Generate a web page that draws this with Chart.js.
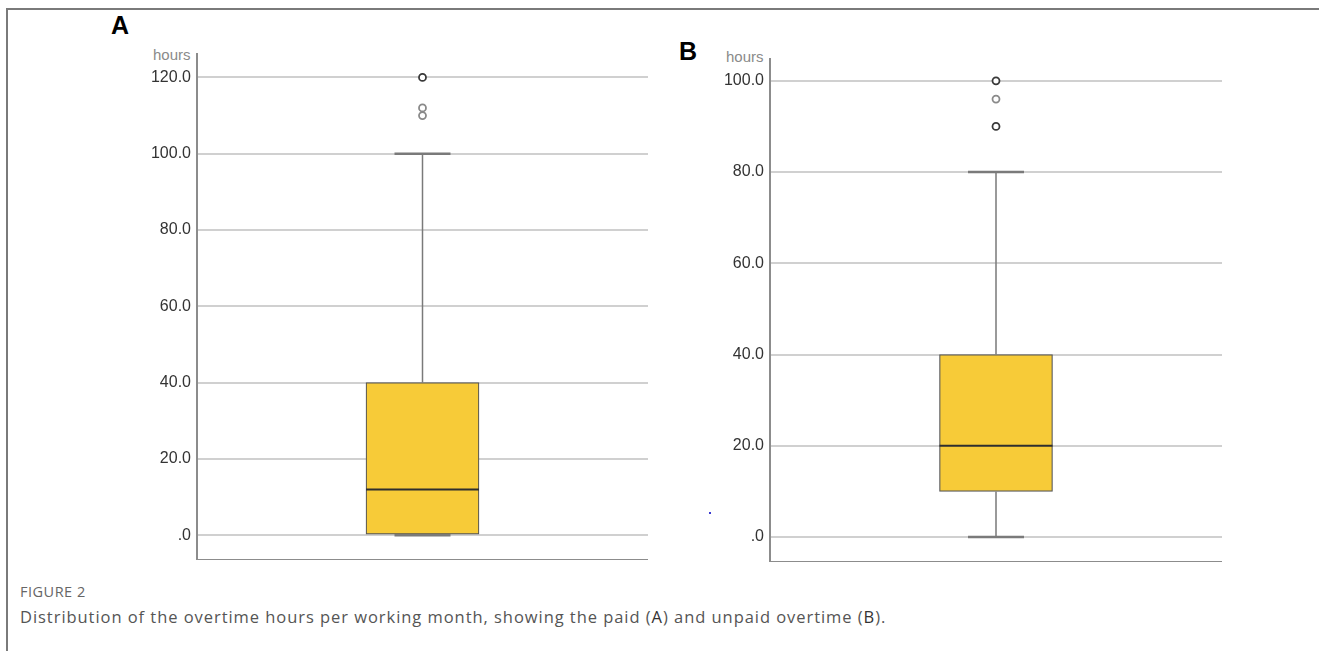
<!DOCTYPE html>
<html>
<head>
<meta charset="utf-8">
<script src="https://cdn.jsdelivr.net/npm/chart.js@4"></script>
<style>
  html, body { margin: 0; padding: 0; background: #fff; }
  body { width: 1319px; height: 651px; position: relative; overflow: hidden; font-family: "Liberation Sans", Arial, sans-serif; }
  .frameTop { position: absolute; left: 6px; top: 8px; width: 1313px; height: 2px; background: #7a7a7a; }
  .frameLeft { position: absolute; left: 6px; top: 8px; width: 2px; height: 643px; background: #7a7a7a; }
  .panel { position: absolute; }
  .letter { position: absolute; font: bold 25px "Liberation Sans", Arial, sans-serif; color: #000; }
  .unit { position: absolute; font: 15px "Liberation Sans", Arial, sans-serif; color: #8a8a8a; }
  .figlabel { position: absolute; left: 20px; top: 582px; font: 14.5px "Open Sans", sans-serif; letter-spacing: 0.5px; color: #666; }
  .caption { position: absolute; left: 20px; top: 605px; font: 16.5px "Open Sans", sans-serif; letter-spacing: 0.95px; color: #555; }
</style>
</head>
<body>
<div class="frameTop"></div>
<div class="frameLeft"></div>

<div class="letter" style="left:111px; top:11px;">A</div>
<div class="unit" style="left:153px; top:46px;">hours</div>
<div class="panel" style="left:100px; top:53px; width:548px; height:507px;"><canvas id="chartA"></canvas></div>

<div class="letter" style="left:679px; top:37px;">B</div>
<div class="unit" style="left:726px; top:48px;">hours</div>
<div class="panel" style="left:673px; top:58px; width:549px; height:504px;"><canvas id="chartB"></canvas></div>

<div style="position:absolute; left:709px; top:512px; width:2px; height:2px; background:#3a3ad0;"></div>

<div class="figlabel">FIGURE 2</div>
<div class="caption">Distribution of the overtime hours per working month, showing the paid (<span style="color:#333">A</span>) and unpaid overtime (<span style="color:#333">B</span>).</div>

<script>
// ---- Data ----
const categories = ['Paid overtime'];
const categoriesB = ['Unpaid overtime'];

// Paid overtime (A): five-number summary
const paidWhiskerLow = [0];
const paidQ1 = [0];
const paidMedian = [12];
const paidQ3 = [40];
const paidWhiskerHigh = [100];
const paidOutliers = [120, 112, 110];
const paidOutlierStrong = [true, false, false];

// Unpaid overtime (B): five-number summary
const unpaidWhiskerLow = [0];
const unpaidQ1 = [10];
const unpaidMedian = [20];
const unpaidQ3 = [40];
const unpaidWhiskerHigh = [80];
const unpaidOutliers = [100, 96, 90];
const unpaidOutlierStrong = [true, false, true];

// Tick labels
const ticksA = [0, 20, 40, 60, 80, 100, 120];
const ticksB = [0, 20, 40, 60, 80, 100];

// ---- Styles ----
const BOX_FILL = '#F7CB38';
const BOX_BORDER = '#555';
const WHISKER = '#7a7a7a';
const GRID = '#d0d0d0';
const AXIS = '#8c8c8c';

function fmt(v) { return v === 0 ? '.0' : v.toFixed(1); }

function noPad(s) { s.paddingTop = 0; s.paddingBottom = 0; s.paddingLeft = 0; s.paddingRight = 0; }

const whiskerPlugin = {
  id: 'whiskers',
  afterDatasetsDraw(chart, args, opts) {
    const { ctx } = chart;
    const x = chart.scales.x, y = chart.scales.y;
    const s = opts.stats;
    for (let i = 0; i < s.median.length; i++) {
      const cx = x.getPixelForValue(i);
      const half = opts.boxWidth / 2, cap = opts.capWidth / 2;
      const pLo = y.getPixelForValue(s.low[i]);
      const pQ1 = y.getPixelForValue(s.q1[i]);
      const pQ3 = y.getPixelForValue(s.q3[i]);
      const pHi = y.getPixelForValue(s.high[i]);
      const pMed = y.getPixelForValue(s.median[i]);
      ctx.save();
      ctx.strokeStyle = WHISKER;
      ctx.lineWidth = 1.5;
      ctx.beginPath();
      ctx.moveTo(cx, pQ3); ctx.lineTo(cx, pHi);
      if (pQ1 !== pLo) { ctx.moveTo(cx, pQ1); ctx.lineTo(cx, pLo); }
      ctx.stroke();
      ctx.lineWidth = 2.5;
      ctx.beginPath();
      ctx.moveTo(cx - cap, pHi); ctx.lineTo(cx + cap, pHi);
      ctx.moveTo(cx - cap, pLo); ctx.lineTo(cx + cap, pLo);
      ctx.stroke();
      ctx.strokeStyle = '#2e2e2e';
      ctx.lineWidth = 2;
      ctx.beginPath();
      ctx.moveTo(cx - half, pMed); ctx.lineTo(cx + half, pMed);
      ctx.stroke();
      ctx.restore();
    }
  }
};

function makeChart(id, labels, low, q1, med, q3, high, outliers, strong, ticks, yMin, yMax) {
  const boxWidth = 113;
  return new Chart(document.getElementById(id), {
    data: {
      labels: labels,
      datasets: [
        {
          type: 'bar',
          data: labels.map((_, i) => [q1[i], q3[i]]),
          backgroundColor: BOX_FILL,
          borderColor: BOX_BORDER,
          borderWidth: 1.2,
          borderSkipped: false,
          barThickness: boxWidth,
          order: 2
        },
        {
          type: 'line',
          data: outliers.map(v => ({ x: labels[0], y: v })),
          showLine: false,
          pointRadius: 3.5,
          pointBorderWidth: 1.8,
          pointBackgroundColor: '#fff',
          pointBorderColor: strong.map(s => s ? '#3a3a3a' : '#8a8a8a'),
          order: 1
        }
      ]
    },
    options: {
      responsive: true,
      maintainAspectRatio: false,
      animation: false,
      layout: { padding: 0, autoPadding: false },
      plugins: {
        legend: { display: false },
        tooltip: { enabled: false },
        whiskers: { boxWidth: boxWidth, capWidth: 56, stats: { low, q1, median: med, q3, high } }
      },
      scales: {
        x: {
          offset: true,
          grid: { display: false, drawTicks: false },
          border: { display: true, color: AXIS, width: 2 },
          ticks: { display: false },
          afterFit(s) { s.height = 0; noPad(s); }
        },
        y: {
          min: yMin,
          max: yMax,
          afterBuildTicks(s) { s.ticks = ticks.map(v => ({ value: v })); },
          afterFit(s) { s.width = 97; noPad(s); },
          grid: { color: GRID, lineWidth: 2, drawTicks: false },
          border: { display: true, color: AXIS, width: 2 },
          ticks: {
            padding: 6,
            color: '#333',
            font: { family: '"Liberation Sans", Arial, sans-serif', size: 16 },
            callback: v => fmt(v)
          }
        }
      }
    },
    plugins: [whiskerPlugin]
  });
}

makeChart('chartA', categories, paidWhiskerLow, paidQ1, paidMedian, paidQ3, paidWhiskerHigh,
  paidOutliers, paidOutlierStrong, ticksA, -6.5, 126.4);
makeChart('chartB', categoriesB, unpaidWhiskerLow, unpaidQ1, unpaidMedian, unpaidQ3, unpaidWhiskerHigh,
  unpaidOutliers, unpaidOutlierStrong, ticksB, -5.48, 105.0);
</script>
</body>
</html>
